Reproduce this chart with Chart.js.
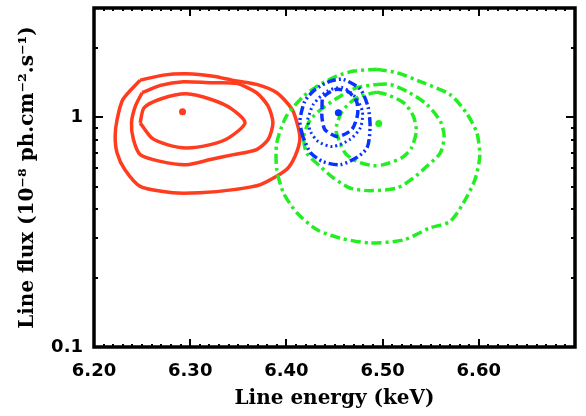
<!doctype html>
<html lang="en">
<head>
<meta charset="utf-8">
<title>Line energy / line flux contours</title>
<script src="https://cdn.jsdelivr.net/npm/chart.js@4.4.0/dist/chart.umd.min.js"></script>
<style>
  html, body { margin: 0; padding: 0; background: #fff; }
</style>
</head>
<body>
<canvas id="contours" width="586" height="416"></canvas>
<script>
// axis ranges and tick labels
var energyRange = [6.20, 6.70];
var fluxRange = [0.1, 3];
var energyLabels = ["6.20", "6.30", "6.40", "6.50", "6.60"];
var fluxLabels = ["0.1", "1"];
var fluxMinor = [0.1, 0.2, 0.3, 0.4, 0.5, 0.6, 0.7, 0.8, 0.9, 1, 2, 3];

// best fit points [keV, 1e-8 ph/cm2/s]
var redBest = [[6.292, 1.059]];
var greenBest = [[6.496, 0.942]];
var blueBest = [[6.454, 1.048]];

// red contours (solid)
var redInner = [[6.248,0.948],[6.252,1.102],[6.270,1.207],[6.296,1.269],[6.322,1.198],[6.343,1.091],
  [6.357,0.948],[6.340,0.815],[6.321,0.762],[6.296,0.737],[6.276,0.762],[6.260,0.815]];
var redMiddle = [[6.250,1.282],[6.269,1.380],[6.293,1.432],[6.321,1.418],[6.348,1.408],[6.369,1.282],
  [6.381,1.120],[6.386,0.948],[6.381,0.802],[6.369,0.725],[6.345,0.689],[6.321,0.656],[6.296,0.623],
  [6.269,0.644],[6.248,0.689],[6.241,0.802],[6.239,0.948],[6.243,1.120]];
var redOuter = [[6.248,1.455],[6.272,1.530],[6.296,1.551],[6.324,1.514],[6.345,1.451],[6.369,1.394],
  [6.390,1.282],[6.406,1.084],[6.412,0.916],[6.414,0.802],[6.409,0.678],[6.400,0.593],[6.373,0.510],
  [6.345,0.485],[6.310,0.470],[6.282,0.470],[6.248,0.501],[6.232,0.593],[6.224,0.701],[6.222,0.829],
  [6.224,0.980],[6.230,1.198]];

// green contours (dash dot)
var greenInner = [[6.494,1.290],[6.504,1.260],[6.522,1.159],[6.532,1.013],[6.535,0.871],[6.530,0.737],
  [6.520,0.667],[6.501,0.623],[6.490,0.617],[6.473,0.644],[6.461,0.701],[6.452,0.857],[6.452,0.916],
  [6.457,1.048],[6.466,1.159],[6.477,1.239]];
var greenMiddle = [[6.494,1.394],[6.508,1.394],[6.528,1.282],[6.546,1.140],[6.560,0.963],[6.564,0.829],
  [6.560,0.701],[6.546,0.613],[6.532,0.545],[6.515,0.493],[6.487,0.480],[6.466,0.493],[6.449,0.545],
  [6.435,0.613],[6.421,0.701],[6.418,0.829],[6.425,0.980],[6.438,1.102],[6.456,1.239],[6.473,1.348]];
var greenOuter = [[6.494,1.621],[6.515,1.567],[6.542,1.418],[6.570,1.260],[6.587,1.048],[6.598,0.857],
  [6.601,0.678],[6.596,0.536],[6.584,0.424],[6.570,0.352],[6.549,0.330],[6.522,0.293],[6.487,0.284],
  [6.456,0.298],[6.432,0.324],[6.411,0.384],[6.397,0.469],[6.390,0.593],[6.390,0.775],[6.400,1.013],
  [6.418,1.239],[6.432,1.370],[6.452,1.514],[6.470,1.593]];

// blue contours (dashed / dotted / dash-dot-dot)
var blueInner = [[6.437,1.106],[6.438,1.223],[6.451,1.325],[6.464,1.299],[6.473,1.174],[6.474,1.031],
  [6.468,0.886],[6.453,0.826],[6.440,0.886],[6.437,1.000]];
var blueMiddle = [[6.422,0.980],[6.428,1.140],[6.442,1.299],[6.458,1.352],[6.471,1.235],[6.479,1.062],
  [6.477,0.904],[6.466,0.802],[6.448,0.747],[6.433,0.786],[6.425,0.869]];
var blueOuter = [[6.417,0.826],[6.414,0.961],[6.419,1.174],[6.430,1.325],[6.445,1.436],[6.459,1.465],
  [6.477,1.325],[6.485,1.106],[6.487,0.904],[6.484,0.740],[6.473,0.669],[6.456,0.623],[6.438,0.642],
  [6.425,0.703]];

var RED = "#ff3c1e", GREEN = "#22ee22", BLUE = "#0a32ff";

function closed(a) {
  return a.concat([a[0]]).map(function (p) { return {x: p[0], y: p[1]}; });
}
function pts(a) {
  return a.map(function (p) { return {x: p[0], y: p[1]}; });
}
function contour(a, colour, dash, width) {
  return {data: closed(a), showLine: true, borderColor: colour, borderWidth: width || 3.5,
          borderDash: dash, pointRadius: 0, tension: 0.25, fill: false};
}
function dot(a, colour) {
  return {data: pts(a), showLine: false, pointRadius: 3.5, pointBackgroundColor: colour,
          pointBorderWidth: 0};
}

// frame with inward ticks on all four sides, IDL style
var frameTicks = {
  id: "frameTicks",
  afterDatasetsDraw: function (chart) {
    var ctx = chart.ctx, a = chart.chartArea, x = chart.scales.x, y = chart.scales.y;
    ctx.save();
    ctx.strokeStyle = "#000";
    ctx.lineWidth = 2;
    ctx.beginPath();
    for (var i = 0; i <= 50; i++) {
      var px = Math.round(x.getPixelForValue(energyRange[0] + i / 100));
      var len = (i % 10 === 0) ? 8 : 3;
      ctx.moveTo(px, a.bottom); ctx.lineTo(px, a.bottom - len);
      ctx.moveTo(px, a.top); ctx.lineTo(px, a.top + len);
    }
    fluxMinor.forEach(function (v) {
      var py = Math.round(y.getPixelForValue(v));
      var len = (v === 0.1 || v === 1) ? 9 : 4;
      ctx.moveTo(a.left, py); ctx.lineTo(a.left + len, py);
      ctx.moveTo(a.right, py); ctx.lineTo(a.right - len, py);
    });
    ctx.stroke();
    ctx.lineWidth = 3.5;
    ctx.strokeRect(a.left, a.top, a.right - a.left, a.bottom - a.top);
    ctx.restore();
  }
};

function noMargins(s) {
  s.paddingTop = 0; s.paddingBottom = 0; s.paddingLeft = 0; s.paddingRight = 0;
}

var tickFont = {family: "'DejaVu Sans', sans-serif", size: 18, weight: "bold"};
var titleFont = {family: "'DejaVu Serif', serif", size: 20, weight: "bold"};

new Chart(document.getElementById("contours").getContext("2d"), {
  type: "scatter",
  data: {
    datasets: [
      dot(blueBest, BLUE),
      dot(greenBest, GREEN),
      dot(redBest, RED),
      contour(blueInner, BLUE, [8, 4]),
      contour(blueMiddle, BLUE, [2, 3], 3),
      contour(blueOuter, BLUE, [9, 3, 2, 3, 2, 3]),
      contour(greenInner, GREEN, [10, 4, 3, 4]),
      contour(greenMiddle, GREEN, [10, 4, 3, 4]),
      contour(greenOuter, GREEN, [10, 4, 3, 4]),
      contour(redInner, RED, []),
      contour(redMiddle, RED, []),
      contour(redOuter, RED, [])
    ]
  },
  options: {
    responsive: false,
    animation: false,
    devicePixelRatio: 1,
    layout: {padding: {top: 8, right: 11, left: 0, bottom: 0}},
    plugins: {legend: {display: false}, tooltip: {enabled: false}},
    scales: {
      x: {
        type: "linear",
        min: energyRange[0], max: energyRange[1],
        grid: {display: false, drawTicks: false},
        border: {display: false},
        afterFit: function (s) { s.height = 69; noMargins(s); },
        ticks: {
          stepSize: 0.1, autoSkip: false, maxRotation: 0, padding: 14,
          color: "#000", font: tickFont,
          callback: function (v) {
            var t = Number(v).toFixed(2);
            return energyLabels.indexOf(t) >= 0 ? t : "";
          }
        },
        title: {display: true, text: "Line energy (keV)", color: "#000", font: titleFont,
                padding: {top: 0, bottom: 5}}
      },
      y: {
        type: "logarithmic",
        min: fluxRange[0], max: fluxRange[1],
        grid: {display: false, drawTicks: false},
        border: {display: false},
        afterFit: function (s) { s.width = 94; noMargins(s); },
        ticks: {
          autoSkip: false, padding: 11, color: "#000", font: tickFont,
          callback: function (v) {
            var t = String(Math.round(v * 10) / 10);
            return fluxLabels.indexOf(t) >= 0 ? t : "";
          }
        },
        title: {display: true, text: "Line flux (10\u207B\u2078 ph.cm\u207B\u00B2.s\u207B\u00B9)", color: "#000",
                font: titleFont, padding: {top: 16, bottom: 0}}
      }
    }
  },
  plugins: [frameTicks]
});
</script>
</body>
</html>
